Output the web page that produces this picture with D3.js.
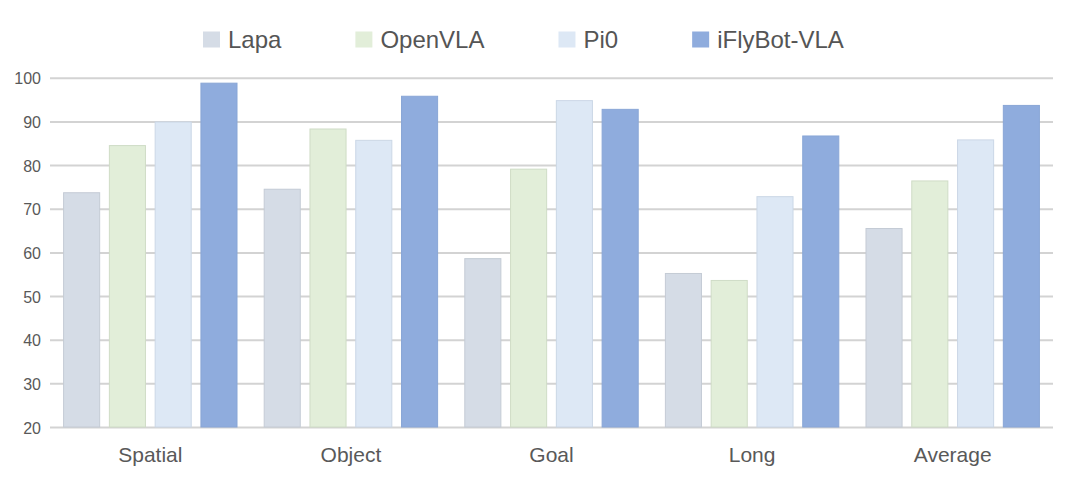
<!DOCTYPE html>
<html>
<head>
<meta charset="utf-8">
<script src="https://cdn.jsdelivr.net/npm/d3@7"></script>
<style>
  html, body { margin: 0; padding: 0; background: #ffffff; }
  svg { display: block; font-family: "Liberation Sans", Arial, sans-serif; }
</style>
</head>
<body>
<svg id="chart" width="1080" height="486"></svg>
<script>
const categories = ["Spatial", "Object", "Goal", "Long", "Average"];
const seriesNames = ["Lapa", "OpenVLA", "Pi0", "iFlyBot-VLA"];
const lapa = [73.9, 74.7, 58.8, 55.4, 65.7];
const openvla = [84.7, 88.5, 79.3, 53.8, 76.6];
const pi0 = [90.1, 85.9, 95.0, 73.0, 86.0];
const iflybot = [99.0, 96.0, 93.0, 86.9, 93.9];
const yTicks = [20, 30, 40, 50, 60, 70, 80, 90, 100];

const fills = ["#d5dce6", "#e2eed9", "#dde8f5", "#8facdd"];
const strokes = ["#c4cbd5", "#cfdcc6", "#cbd7e6", "#89a6d6"];
const seriesValues = [lapa, openvla, pi0, iflybot];

const svg = d3.select("#chart");
const plotLeft = 50, plotRight = 1053, plotTop = 78.3, plotBottom = 427.5;

const x0 = d3.scaleBand().domain(categories).range([plotLeft, plotRight]).padding(0);
const x1 = d3.scaleBand().domain(seriesNames).range([0, x0.bandwidth()])
  .paddingInner(0.19).paddingOuter(0.286);
const y = d3.scaleLinear().domain([20, 100]).range([plotBottom, plotTop]);

// gridlines
svg.append("g").selectAll("line").data(yTicks).join("line")
  .attr("x1", plotLeft).attr("x2", plotRight)
  .attr("y1", d => y(d)).attr("y2", d => y(d))
  .attr("stroke", "#d3d3d3").attr("stroke-width", 2);

// y axis labels
const yAxis = d3.axisLeft(y).tickValues(yTicks).tickSize(0).tickPadding(0);
const yg = svg.append("g").attr("transform", `translate(${plotLeft - 9},0)`).call(yAxis);
yg.select(".domain").remove();
yg.selectAll("text").attr("font-size", 16).attr("fill", "#595959")
  .attr("font-family", "Liberation Sans, Arial, sans-serif").attr("dy", "0.35em");

// bars
const groups = svg.append("g").selectAll("g").data(categories).join("g")
  .attr("transform", d => `translate(${x0(d)},0)`);
groups.selectAll("rect")
  .data((c, ci) => seriesNames.map((s, si) => ({ s, si, v: seriesValues[si][ci] })))
  .join("rect")
  .attr("x", d => x1(d.s) + 0.5)
  .attr("width", x1.bandwidth() - 1)
  .attr("y", d => y(d.v) + 0.5)
  .attr("height", d => y(20) - y(d.v) - 1)
  .attr("fill", d => fills[d.si])
  .attr("stroke", d => strokes[d.si])
  .attr("stroke-width", 1);

// x axis labels
const xAxis = d3.axisBottom(x0).tickSize(0).tickPadding(0);
const xg = svg.append("g").attr("transform", `translate(0,${plotBottom})`).call(xAxis);
xg.select(".domain").remove();
xg.selectAll("text").attr("font-size", 21).attr("fill", "#595959")
  .attr("font-family", "Liberation Sans, Arial, sans-serif")
  .attr("dy", null).attr("y", 34);

// legend
const legend = svg.append("g");
let lx = 203;
seriesNames.forEach((name, i) => {
  legend.append("rect").attr("x", lx).attr("y", 31.5).attr("width", 17).attr("height", 16)
    .attr("fill", fills[i]);
  const t = legend.append("text").attr("x", lx + 25).attr("y", 47.5)
    .attr("font-size", 24).attr("fill", "#555555").text(name);
  lx = lx + 25 + t.node().getComputedTextLength() + 74;
});
</script>
</body>
</html>
